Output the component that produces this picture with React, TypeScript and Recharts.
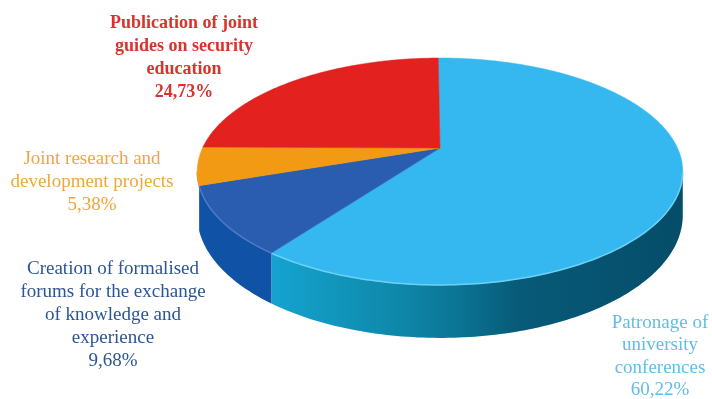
import React from "react";
import { PieChart, Pie } from "recharts";

const names = ["Patronage", "Forums", "Joint projects", "Joint guides"];
const values = [60.22, 9.68, 5.38, 24.73];
const topColors = ["#35b8ef", "#2a5db0", "#f39a14", "#e3211e"];
const wallColors = ["url(#blueWall)", "#0f52a6", "#c97a08", "#b01512"];
const rimColors = ["#6fd0f5", "#4c7cc6", "#f39a14", "#e3211e"];
const data = names.map((name, i) => ({ name, value: values[i] }));

const labels = [
  { lines: ["Publication of joint", "guides on security", "education", "24,73%"], color: "#d9332d", x: 184, y: 11, size: 18, weight: 700, lh: 23 },
  { lines: ["Joint research and", "development projects", "5,38%"], color: "#f0a63a", x: 92, y: 146, size: 19, weight: 400, lh: 23 },
  { lines: ["Creation of formalised", "forums for the exchange", "of knowledge and", "experience", "9,68%"], color: "#2b5597", x: 113, y: 256, size: 19, weight: 400, lh: 23 },
  { lines: ["Patronage of", "university", "conferences", "60,22%"], color: "#62bde6", x: 660, y: 311, size: 19, weight: 400, lh: 22.3 },
];

const PERSP = 0.207;
const RY = 108.6;
const DEPTH = 42;

function project(cx: number, cy: number, r: number, deg: number) {
  const rad = (deg * Math.PI) / 180;
  const u = Math.cos(rad);
  const v = Math.sin(rad);
  const w = 1 + PERSP * v;
  return { x: cx + (r * u) / w, y: cy - (RY * v) / w, w, v };
}

function arc(cx: number, cy: number, r: number, a0: number, a1: number) {
  const n = Math.max(2, Math.ceil(Math.abs(a1 - a0)));
  const pts = [];
  for (let i = 0; i <= n; i++) pts.push(project(cx, cy, r, a0 + ((a1 - a0) * i) / n));
  return pts;
}

const toPath = (pts: { x: number; y: number }[]) =>
  pts.map((p, i) => `${i ? "L" : "M"}${p.x.toFixed(2)} ${p.y.toFixed(2)}`).join(" ");

const TopShape = (props: any) => {
  const { cx, cy, outerRadius, startAngle, endAngle, index } = props;
  const pts = arc(cx, cy, outerRadius, startAngle, endAngle);
  const front = pts.filter((p) => p.v < -PERSP);
  return (
    <g>
      <path d={`M${cx} ${cy} ${toPath(pts).replace("M", "L")} Z`} fill={topColors[index]} stroke={topColors[index]} strokeWidth={0.5} />
      {front.length > 1 && <path d={toPath(front)} fill="none" stroke={rimColors[index]} strokeWidth={1.5} />}
    </g>
  );
};

const WallShape = (props: any) => {
  const { cx, cy, outerRadius, startAngle, endAngle, index } = props;
  if (index >= 2) return <g />;
  const pts = arc(cx, cy, outerRadius, startAngle, endAngle).filter((p) => p.v < -PERSP + 0.02);
  if (pts.length < 2) return <g />;
  const low = pts.map((p) => ({ x: p.x, y: p.y + DEPTH / p.w })).reverse();
  return <path d={`${toPath(pts)} ${toPath(low).replace("M", "L")} Z`} fill={wallColors[index]} stroke="none" />;
};

export default function App() {
  return (
    <div style={{ position: "absolute", left: 0, top: 0, width: 712, height: 399, background: "#fff", overflow: "hidden" }}>
      <PieChart width={712} height={399} margin={{ top: 0, right: 0, bottom: 0, left: 0 }}>
        <defs>
          <linearGradient id="blueWall" gradientUnits="userSpaceOnUse" x1="273" y1="0" x2="683" y2="0">
            <stop offset="0" stopColor="#14a3cf" />
            <stop offset="0.3" stopColor="#0e88aa" />
            <stop offset="0.45" stopColor="#0b7595" />
            <stop offset="0.6" stopColor="#075a78" />
            <stop offset="1" stopColor="#054d69" />
          </linearGradient>
        </defs>
        <Pie data={data} dataKey="value" cx={440} cy={148} outerRadius={237.5} startAngle={90.5} endAngle={-269.5}
          isAnimationActive={false} stroke="none" shape={WallShape} style={{ filter: "drop-shadow(0 3px 3px rgba(90,90,90,0.3))" }} />
        <Pie data={data} dataKey="value" cx={440} cy={148} outerRadius={237.5} startAngle={90.5} endAngle={-269.5}
          isAnimationActive={false} stroke="none" shape={TopShape} />
      </PieChart>
      {labels.map((l) => (
        <div key={l.lines[0]} style={{
          position: "absolute", left: l.x - 130, top: l.y, width: 260, textAlign: "center",
          fontFamily: "'Liberation Serif', serif", fontSize: l.size, lineHeight: `${l.lh}px`, color: l.color,
          fontWeight: l.weight, filter: "blur(0.3px)",
        }}>
          {l.lines.map((t) => <div key={t}>{t}</div>)}
        </div>
      ))}
    </div>
  );
}
